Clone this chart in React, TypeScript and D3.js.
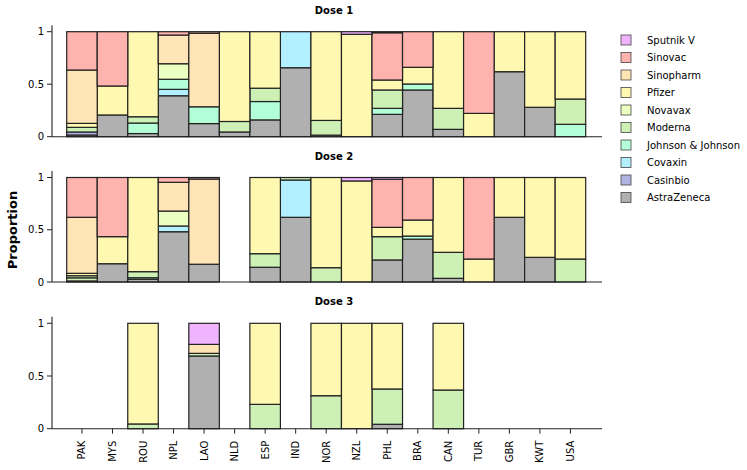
import React from "react";
import * as d3 from "d3";

const countries = ["PAK","MYS","ROU","NPL","LAO","NLD","ESP","IND","NOR","NZL","PHL","BRA","CAN","TUR","GBR","KWT","USA"];
const vaccines = ["AstraZeneca","Casinbio","Covaxin","Johnson & Johnson","Moderna","Novavax","Pfizer","Sinopharm","Sinovac","Sputnik V"];
const colors = ["#b0b0b0","#b0b4e2","#b3f0ff","#b3ffd8","#cdf0b5","#eaffc0","#fff8b0","#ffe4b5","#ffb3ae","#f0b4ff"];
const doseTitles = ["Dose 1","Dose 2","Dose 3"];
const yTicks = [0, 0.5, 1];

// per country: [AstraZeneca, Casinbio, Covaxin, J&J, Moderna, Novavax, Pfizer, Sinopharm, Sinovac, Sputnik V]
const dose1 = [
  [0.016,0.029,0,0,0.044,0,0.038,0.508,0.365,0],
  [0.207,0,0,0,0,0,0.276,0,0.517,0],
  [0.03,0,0,0.10,0.06,0,0.81,0,0,0],
  [0.39,0,0.061,0.096,0,0.148,0,0.273,0.032,0],
  [0.125,0,0,0.16,0,0,0,0.70,0.015,0],
  [0.045,0,0,0,0.10,0,0.855,0,0,0],
  [0.16,0,0,0.175,0.127,0,0.538,0,0,0],
  [0.657,0,0.343,0,0,0,0,0,0,0],
  [0.015,0,0,0,0.14,0,0.845,0,0,0],
  [0,0,0,0,0,0,0.975,0,0,0.025],
  [0.213,0,0,0.057,0.175,0,0.095,0,0.45,0.01],
  [0.445,0,0,0.057,0,0,0.159,0,0.339,0],
  [0.07,0,0,0,0.20,0,0.73,0,0,0],
  [0,0,0,0,0,0,0.222,0,0.778,0],
  [0.619,0,0,0,0,0,0.381,0,0,0],
  [0.28,0,0,0,0,0,0.72,0,0,0],
  [0,0,0,0.118,0.241,0,0.641,0,0,0],
];
const dose2 = [
  [0.01,0,0,0,0.03,0.02,0.023,0.536,0.381,0],
  [0.175,0,0,0,0,0,0.259,0,0.566,0],
  [0.026,0,0,0.015,0.058,0,0.901,0,0,0],
  [0.481,0,0.055,0,0,0.143,0,0.275,0.046,0],
  [0.17,0,0,0,0,0,0,0.815,0.015,0],
  [0,0,0,0,0,0,0,0,0,0],
  [0.141,0,0,0,0.13,0,0.729,0,0,0],
  [0.619,0,0.357,0,0.024,0,0,0,0,0],
  [0,0,0,0,0.137,0,0.863,0,0,0],
  [0,0,0,0,0,0,0.967,0,0,0.033],
  [0.211,0,0,0,0.223,0,0.089,0,0.46,0.017],
  [0.41,0,0,0.03,0,0,0.153,0,0.407,0],
  [0.035,0,0,0,0.249,0,0.716,0,0,0],
  [0,0,0,0,0,0,0.22,0,0.78,0],
  [0.619,0,0,0,0,0,0.381,0,0,0],
  [0.236,0,0,0,0,0,0.764,0,0,0],
  [0,0,0,0,0.22,0,0.78,0,0,0],
];
const dose3 = [
  [0,0,0,0,0,0,0,0,0,0],
  [0,0,0,0,0,0,0,0,0,0],
  [0,0,0,0,0.045,0,0.955,0,0,0],
  [0,0,0,0,0,0,0,0,0,0],
  [0.69,0,0,0,0.025,0,0,0.085,0,0.20],
  [0,0,0,0,0,0,0,0,0,0],
  [0,0,0,0,0.231,0,0.769,0,0,0],
  [0,0,0,0,0,0,0,0,0,0],
  [0,0,0,0,0.313,0,0.687,0,0,0],
  [0,0,0,0,0,0,1,0,0,0],
  [0.042,0,0,0,0.335,0,0.623,0,0,0],
  [0,0,0,0,0,0,0,0,0,0],
  [0,0,0,0,0.367,0,0.633,0,0,0],
  [0,0,0,0,0,0,0,0,0,0],
  [0,0,0,0,0,0,0,0,0,0],
  [0,0,0,0,0,0,0,0,0,0],
  [0,0,0,0,0,0,0,0,0,0],
];
const doses = [dose1, dose2, dose3];

const W = 747, H = 470;
const panels = [
  { top: 31.7, bottom: 136.7 },
  { top: 177.5, bottom: 282 },
  { top: 323.3, bottom: 428.7 },
];
const FONT = "DejaVu Sans, sans-serif";

export default function App() {
  const x = d3.scaleBand<string>().domain(countries).range([66.7, 585.7]).padding(0);
  const axisLeft = 52;
  const axisRight = 602;
  const stack = d3.stack<number[], number>().keys(vaccines.map((_, i) => i)).value((d, k) => d[k]);

  return (
    <svg width={W} height={H} style={{ position: "absolute", left: 0, top: 0 }} fontFamily={FONT}>
      <rect width={W} height={H} fill="white" />
      {doses.map((data, pi) => {
        const p = panels[pi];
        const y = d3.scaleLinear().domain([0, 1]).range([p.bottom, p.top]);
        const series = stack(data);
        return (
          <g key={pi}>
            <text x={334} y={p.top - 18} textAnchor="middle" fontSize={10} fontWeight="bold">
              {doseTitles[pi]}
            </text>
            {series.map((s, si) => (
              <g key={si}>
                {s.map((d, ci) =>
                  d[1] - d[0] > 0 ? (
                    <rect
                      key={ci}
                      x={x(countries[ci])!}
                      y={y(d[1])}
                      width={x.bandwidth()}
                      height={y(d[0]) - y(d[1])}
                      fill={colors[si]}
                      stroke="#222"
                      strokeWidth={1.2}
                    />
                  ) : null
                )}
              </g>
            ))}
            <line x1={axisLeft} x2={axisLeft} y1={y(1) - 6.5} y2={y(0)} stroke="#222" strokeWidth={1.1} />
            <line x1={axisLeft} x2={axisRight} y1={y(0)} y2={y(0)} stroke="#222" strokeWidth={1.1} />
            {yTicks.map((t) => (
              <g key={t}>
                <line x1={axisLeft - 5} x2={axisLeft} y1={y(t)} y2={y(t)} stroke="#222" strokeWidth={1} />
                <text x={axisLeft - 8} y={y(t)} dy="0.35em" textAnchor="end" fontSize={10}>
                  {t === 0.5 ? "0.5" : String(t)}
                </text>
              </g>
            ))}
            {pi === 2 &&
              countries.map((c) => {
                const cx = x(c)! + x.bandwidth() / 2;
                return (
                  <g key={c}>
                    <line x1={cx} x2={cx} y1={y(0)} y2={y(0) + 5} stroke="#222" strokeWidth={1} />
                    <text
                      transform={`translate(${cx},${y(0) + 12}) rotate(-90)`}
                      textAnchor="end"
                      dy="0.35em"
                      fontSize={10}
                    >
                      {c}
                    </text>
                  </g>
                );
              })}
          </g>
        );
      })}
      <text transform={`translate(17,230) rotate(-90)`} textAnchor="middle" fontSize={13} fontWeight="bold">
        Proportion
      </text>
      {vaccines
        .map((v, i) => ({ v, c: colors[i] }))
        .reverse()
        .map((d, i) => (
          <g key={d.v} transform={`translate(621,${40 + i * 17.5})`}>
            <rect x={0} y={-5} width={10} height={10} fill={d.c} stroke="#444" strokeWidth={0.8} />
            <text x={26} y={0} dy="0.35em" fontSize={10}>
              {d.v}
            </text>
          </g>
        ))}
    </svg>
  );
}
